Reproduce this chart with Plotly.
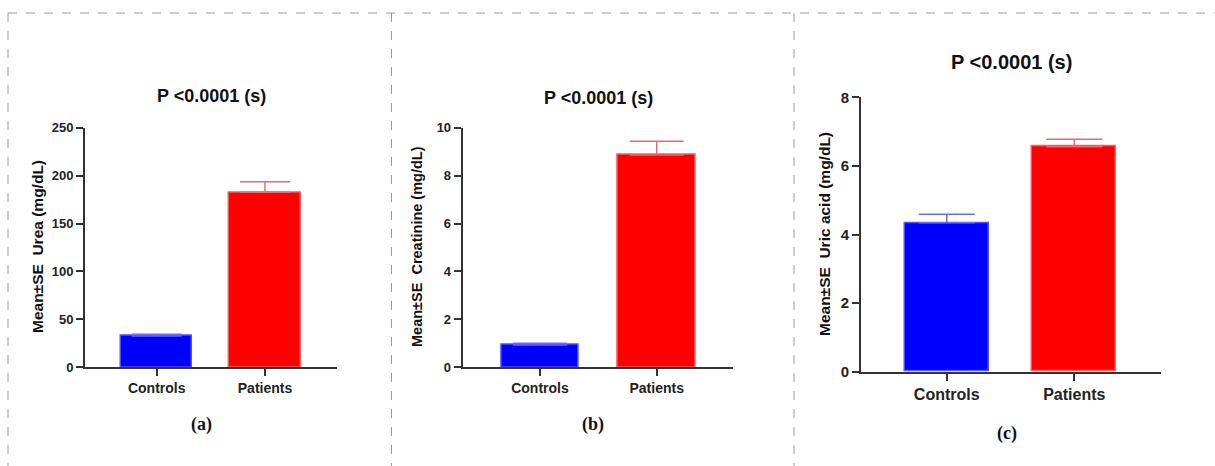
import plotly.graph_objects as go

W, H = 1215, 466

categories = ["Controls", "Patients"]
urea_mean = [32.7, 182.6]
urea_se = [1.7, 11.0]
creat_mean = [0.93, 8.86]
creat_se = [0.07, 0.57]
uric_mean = [4.34, 6.56]
uric_se = [0.25, 0.22]

titles = ["P <0.0001 (s)", "P <0.0001 (s)", "P <0.0001 (s)"]
ytitles = ["Mean±SE  Urea (mg/dL)", "Mean±SE  Creatinine (mg/dL)", "Mean±SE  Uric acid (mg/dL)"]
panel_labels = ["(a)", "(b)", "(c)"]

bar_colors = ["#0000ff", "#ff0000"]
line_colors = ["#5050ff", "#f06060"]
err_colors = ["#6a6aff", "#e86a6a"]

def px(x):
    return x / W

def py(y):
    return 1 - y / H

# panel geometry in pixels
panels = [
    dict(means=urea_mean, se=urea_se, x0=85, x1=336.7, y0=367.3, y1=127.7, yr=[0, 250], dt=50,
         xr=[-0.662, 1.662], bw=0.661, tfs=18, tkfs=13, ytfs=15.5, ytx=37, yty=247, tx=211, ty=96,
         lx=201, ly=424, xfs=14, lfs=18, cap=25),
    dict(means=creat_mean, se=creat_se, x0=462.7, x1=733.3, y0=367.3, y1=127.7, yr=[0, 10], dt=2,
         xr=[-0.662, 1.656], bw=0.664, tfs=18, tkfs=13, ytfs=14.5, ytx=417, yty=247, tx=598, ty=98,
         lx=593, ly=424, xfs=14, lfs=18, cap=27),
    dict(means=uric_mean, se=uric_se, x0=861, x1=1160.7, y0=371.7, y1=97.3, yr=[0, 8], dt=2,
         xr=[-0.672, 1.677], bw=0.66, tfs=20, tkfs=15, ytfs=15.5, ytx=824, yty=234, tx=1011, ty=62,
         lx=1007, ly=433, xfs=16, lfs=18, cap=28),
]

fig = go.Figure()
annotations = []
layout = {}
for i, p in enumerate(panels):
    n = "" if i == 0 else str(i + 1)
    for j, cat in enumerate(categories):
        fig.add_trace(go.Bar(
            x=[cat], y=[p["means"][j]],
            width=p["bw"],
            marker=dict(color=bar_colors[j], line=dict(color=line_colors[j], width=1.5)),
            error_y=dict(type="data", symmetric=False, array=[p["se"][j]], arrayminus=[0],
                         color=err_colors[j], thickness=1.5, width=p["cap"]),
            xaxis="x" + n, yaxis="y" + n, showlegend=False, hoverinfo="x+y",
        ))
    layout["xaxis" + n] = dict(
        domain=[px(p["x0"]), px(p["x1"])], anchor="y" + n, type="category",
        range=p["xr"], showline=True, linecolor="#333333", linewidth=2,
        ticks="outside", ticklen=7, tickwidth=2, tickcolor="#333333",
        tickfont=dict(family="Liberation Sans", size=p["xfs"], color="#222222", weight="bold"),
        showgrid=False, zeroline=False, fixedrange=True, automargin=False,
    )
    layout["yaxis" + n] = dict(
        domain=[py(p["y0"]), py(p["y1"])], anchor="x" + n,
        range=p["yr"], dtick=p["dt"], showline=True, linecolor="#333333", linewidth=2,
        ticks="outside", ticklen=7, tickwidth=2, tickcolor="#333333",
        tickfont=dict(family="Liberation Sans", size=p["tkfs"], color="#222222", weight="bold"),
        showgrid=False, zeroline=False, fixedrange=True, automargin=False,
    )
    common = dict(xref="paper", yref="paper", showarrow=False, xanchor="center", yanchor="middle")
    annotations.append(dict(text="<b>" + titles[i] + "</b>", x=px(p["tx"]), y=py(p["ty"]),
                            font=dict(family="Liberation Sans", size=p["tfs"], color="#111111"), **common))
    annotations.append(dict(text="<b>" + ytitles[i] + "</b>", x=px(p["ytx"]), y=py(p["yty"]),
                            textangle=-90,
                            font=dict(family="Liberation Sans", size=p["ytfs"], color="#111111"), **common))
    annotations.append(dict(text="<b>" + panel_labels[i] + "</b>", x=px(p["lx"]), y=py(p["ly"]),
                            font=dict(family="Liberation Serif", size=p["lfs"], color="#111111"), **common))

# dashed frame
dash = dict(color="#9a9a9a", width=1, dash="dash")
shapes = [
    dict(type="line", xref="paper", yref="paper", x0=px(8), x1=1, y0=py(13), y1=py(13), line=dash),
    dict(type="line", xref="paper", yref="paper", x0=px(8), x1=px(8), y0=py(13), y1=0, line=dash),
    dict(type="line", xref="paper", yref="paper", x0=px(391.5), x1=px(391.5), y0=py(13), y1=0, line=dash),
    dict(type="line", xref="paper", yref="paper", x0=px(794), x1=px(794), y0=py(13), y1=0, line=dash),
]

fig.update_layout(
    template="none",
    width=W, height=H, margin=dict(l=0, r=0, t=0, b=0, pad=0),
    paper_bgcolor="white", plot_bgcolor="white",
    annotations=annotations, shapes=shapes, bargap=0, **layout,
)

fig.write_html("out.html", config={"displayModeBar": False},
               post_script="document.body.style.margin='0';document.body.style.overflow='hidden';")
